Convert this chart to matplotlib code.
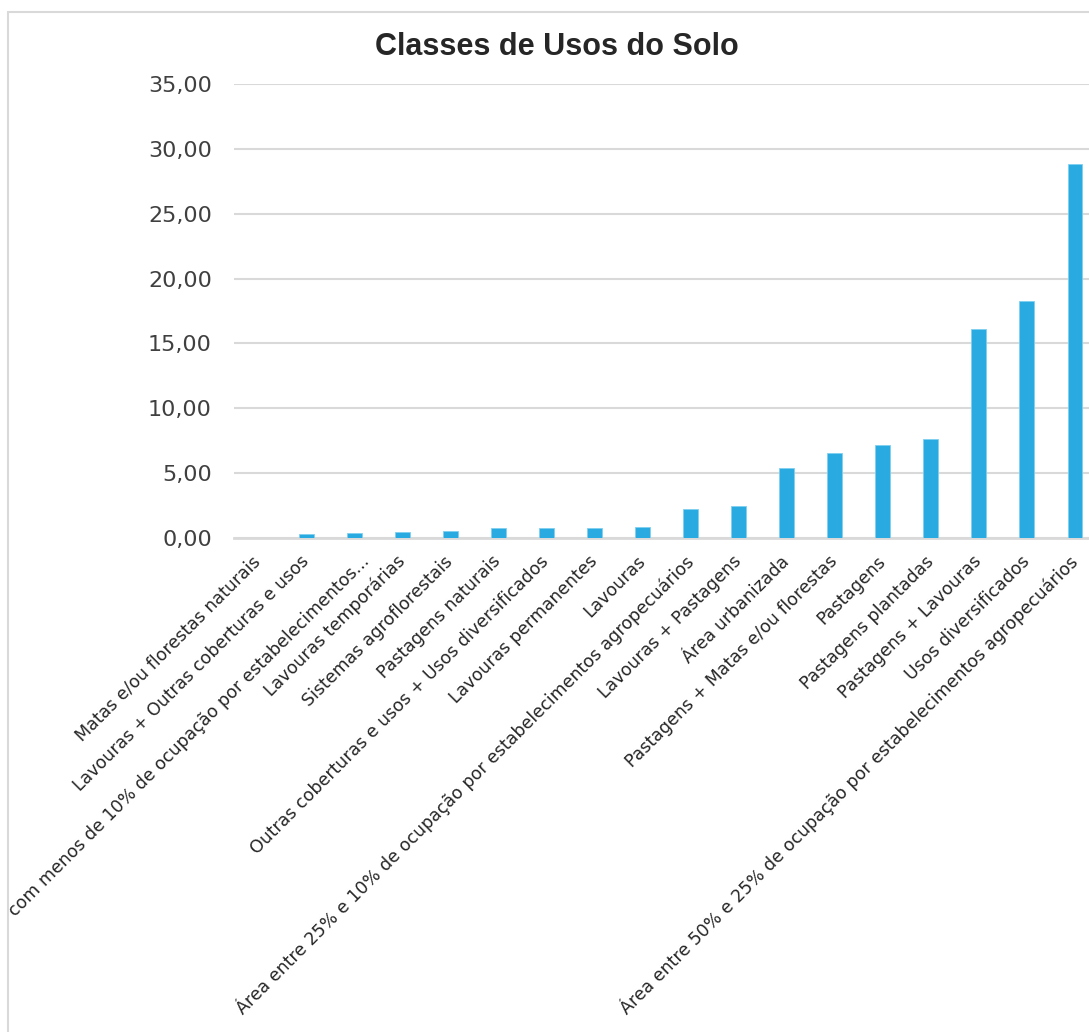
import matplotlib
matplotlib.use("Agg")
import matplotlib.pyplot as plt
import matplotlib.transforms as mtrans
from matplotlib.patches import Rectangle
from matplotlib.ticker import FuncFormatter

categories = [
    "Matas e/ou florestas naturais",
    "Lavouras + Outras coberturas e usos",
    "com menos de 10% de ocupação por estabelecimentos...",
    "Lavouras temporárias",
    "Sistemas agroflorestais",
    "Pastagens naturais",
    "Outras coberturas e usos + Usos diversificados",
    "Lavouras permanentes",
    "Lavouras",
    "Área entre 25% e 10% de ocupação por estabelecimentos agropecuários",
    "Lavouras + Pastagens",
    "Área urbanizada",
    "Pastagens + Matas e/ou florestas",
    "Pastagens",
    "Pastagens plantadas",
    "Pastagens + Lavouras",
    "Usos diversificados",
    "Área entre 50% e 25% de ocupação por estabelecimentos agropecuários",
]
values = [0.02, 0.31, 0.42, 0.50, 0.53, 0.75, 0.80, 0.80, 0.85,
          2.26, 2.49, 5.38, 6.52, 7.20, 7.67, 16.10, 18.30, 28.80]
yticks = [0, 5, 10, 15, 20, 25, 30, 35]
title = "Classes de Usos do Solo"

W, H = 1089, 1032
fig = plt.figure(figsize=(W / 100, H / 100), dpi=100)
fig.patch.set_facecolor("white")

# outer chart frame
fig.add_artist(Rectangle((8 / W, -0.05), 1.2, 1 - 12 / H + 0.05,
                         transform=fig.transFigure, fill=False,
                         edgecolor="#d9d9d9", linewidth=1.5))

left, bottom = 234 / W, (H - 538) / H
ax = fig.add_axes([left, bottom, 865 / W, 454 / H])
x = list(range(len(categories)))
ax.bar(x, values, width=0.31, color="#29abe2", edgecolor="#7fd0f0",
       linewidth=0.6, zorder=3)
ax.set_xlim(-0.5, len(categories) - 0.5)
ax.set_ylim(0, 35)
ax.set_yticks(yticks)
ax.yaxis.set_major_formatter(FuncFormatter(lambda v, p: f"{v:.2f}".replace(".", ",")))
ax.grid(axis="y", color="#d9d9d9", linewidth=1.5, zorder=0)
ax.set_axisbelow(True)
for s in ["top", "right", "left"]:
    ax.spines[s].set_visible(False)
ax.spines["bottom"].set_color("#d9d9d9")
ax.spines["bottom"].set_linewidth(2)
ax.tick_params(axis="y", length=0, pad=16, labelsize=16, labelcolor="#404040")
ax.tick_params(axis="x", length=0, pad=15)
ax.set_xticks(x)
ax.set_xticklabels(categories, rotation=45, ha="right", va="center",
                   rotation_mode="anchor", fontsize=12.5, color="#262626",
                   family="DejaVu Sans")
# the truncated third label sits a little further right in the reference
lbl3 = ax.get_xticklabels()[2]
lbl3.set_transform(lbl3.get_transform() +
                   mtrans.ScaledTranslation(13 / 100, 0, fig.dpi_scale_trans))

fig.text(557 / W, 1 - 47 / H, title, ha="center", va="center",
         fontsize=22, fontweight="bold", family="Liberation Sans",
         color="#262626")

fig.savefig("out.png", dpi=100, facecolor="white")
